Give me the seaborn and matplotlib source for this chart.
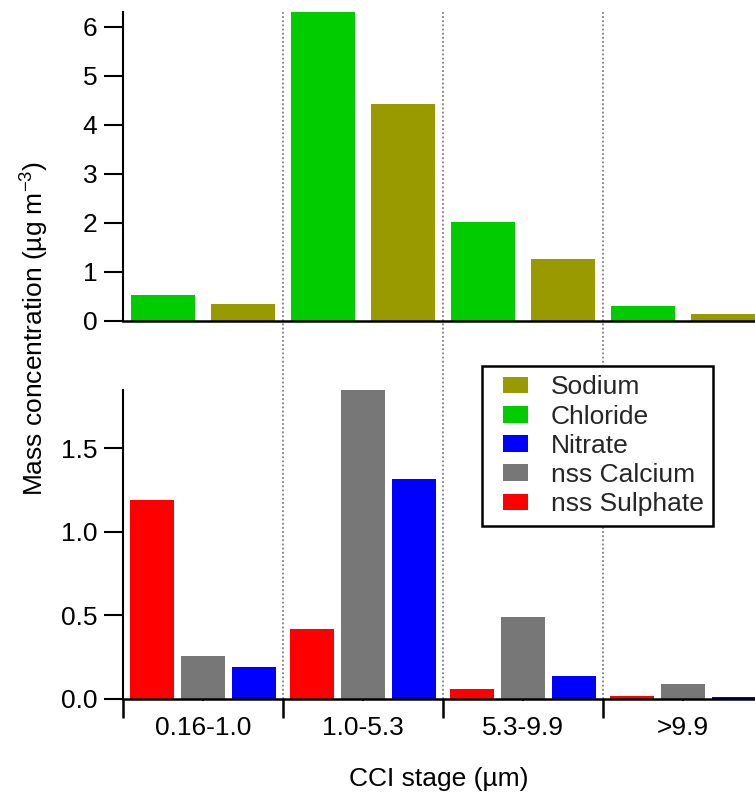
import numpy as np
import pandas as pd
import matplotlib
matplotlib.use("Agg")
import matplotlib.pyplot as plt
from matplotlib.patches import Patch, Rectangle
from matplotlib.legend_handler import HandlerPatch
import seaborn as sns

# ---------------- data ----------------
stages = ["0.16-1.0", "1.0-5.3", "5.3-9.9", ">9.9"]

chloride = [0.52, 6.30, 2.01, 0.31]
sodium = [0.35, 4.42, 1.26, 0.15]

sulphate = [1.19, 0.42, 0.06, 0.015]
calcium = [0.26, 1.85, 0.49, 0.09]
nitrate = [0.19, 1.32, 0.14, 0.012]

top_species = ["Chloride", "Sodium"]
bottom_species = ["nss Sulphate", "nss Calcium", "Nitrate"]
legend_order = ["Sodium", "Chloride", "Nitrate", "nss Calcium", "nss Sulphate"]

colors = {
    "Sodium": "#999900",
    "Chloride": "#00CC00",
    "Nitrate": "#0000FF",
    "nss Calcium": "#777777",
    "nss Sulphate": "#FF0000",
}

top_df = pd.DataFrame({
    "stage": stages * 2,
    "species": ["Chloride"] * 4 + ["Sodium"] * 4,
    "value": chloride + sodium,
})
bottom_df = pd.DataFrame({
    "stage": stages * 3,
    "species": ["nss Sulphate"] * 4 + ["nss Calcium"] * 4 + ["Nitrate"] * 4,
    "value": sulphate + calcium + nitrate,
})

# ---------------- style ----------------
sns.set_theme(style="white")
plt.rcParams["font.family"] = ["Liberation Sans", "DejaVu Sans"]
plt.rcParams["mathtext.fontset"] = "custom"
plt.rcParams["mathtext.rm"] = "Liberation Sans"
plt.rcParams["mathtext.it"] = "Liberation Sans"
plt.rcParams["mathtext.default"] = "regular"

FS = 19
W, H = 755, 798
fig = plt.figure(figsize=(W / 100, H / 100), dpi=100)

left = 123 / W
width = (W - 123) / W
top_ax_pos = [left, 1 - 321 / H, width, (321 - 12) / H]
bot_ax_pos = [left, 1 - 699 / H, width, (699 - 390) / H]
XLIM = (-0.5, 3.45)

# overlay axes for the dotted separators
ax_bg = fig.add_axes([left, 1 - 699 / H, width, (699 - 12) / H], zorder=0)
ax_bg.set_xlim(*XLIM)
ax_bg.set_ylim(0, 1)
ax_bg.axis("off")
for b in [0.5, 1.5, 2.5]:
    ax_bg.axvline(b, color="#808080", lw=1.3, ls=(0, (1, 1.3)))

ax_top = fig.add_axes(top_ax_pos, zorder=1)
ax_bot = fig.add_axes(bot_ax_pos, zorder=1)
for ax in (ax_top, ax_bot):
    ax.patch.set_visible(False)

sns.barplot(data=top_df, x="stage", y="value", hue="species",
            order=stages, hue_order=top_species, palette=colors,
            saturation=1, width=1.0, gap=0.19, linewidth=0, legend=False,
            ax=ax_top)
sns.barplot(data=bottom_df, x="stage", y="value", hue="species",
            order=stages, hue_order=bottom_species, palette=colors,
            saturation=1, width=0.96, gap=0.14, linewidth=0, legend=False,
            ax=ax_bot)

for ax in (ax_top, ax_bot):
    ax.set_xlim(*XLIM)
    ax.set_xlabel("")
    ax.set_ylabel("")
    for s in ("top", "right"):
        ax.spines[s].set_visible(False)
    ax.spines["left"].set_linewidth(1.5)
    ax.spines["bottom"].set_linewidth(1.8)
    ax.spines["left"].set_color("black")
    ax.spines["bottom"].set_color("black")
    ax.tick_params(axis="y", direction="out", length=13.5, width=1.5,
                   pad=5, labelsize=FS, colors="black", left=True)

ax_top.set_ylim(0, 6.3)
ax_top.set_yticks([0, 1, 2, 3, 4, 5, 6])
ax_top.tick_params(axis="x", bottom=False, labelbottom=False)

ax_bot.set_ylim(0, 1.85)
ax_bot.set_yticks([0, 0.5, 1.0, 1.5])
ax_bot.set_yticklabels(["0.0", "0.5", "1.0", "1.5"])

ax_bot.set_xticks(range(len(stages)))
ax_bot.set_xticklabels(stages)
ax_bot.set_xticks([-0.5, 0.5, 1.5, 2.5], minor=True)
ax_bot.tick_params(axis="x", which="major", bottom=True, direction="inout",
                   length=3, width=1.2, pad=11, labelsize=FS, colors="black")
ax_bot.tick_params(axis="x", which="minor", bottom=True, direction="out",
                   length=14, width=1.8, colors="black")
ax_bot.set_xlabel("CCI stage (µm)", fontsize=FS, labelpad=19, color="black")

fig.text(35 / W, 1 - 328 / H, "Mass concentration (µg m$^{-3}$)",
         rotation=90, ha="center", va="center", fontsize=FS, color="black")

# legend: swatch sits at the right end of a wider handle box
SW = 18.0  # swatch width in points


def right_swatch(legend, orig_handle, xdescent, ydescent, width, height, fontsize):
    return Rectangle(xy=(-xdescent + width - SW, -ydescent), width=SW, height=height)


handles = [Patch(facecolor=colors[k], edgecolor="none", label=k) for k in legend_order]
leg = ax_bot.legend(handles=handles, loc="upper left",
                    bbox_to_anchor=((482 - 123) / (W - 123), (699 - 366) / (699 - 390)),
                    borderaxespad=0, fontsize=FS, frameon=True, fancybox=False,
                    handlelength=1.4, handleheight=0.6, handletextpad=0.85,
                    labelspacing=0.2, borderpad=0.35,
                    handler_map={Patch: HandlerPatch(patch_func=right_swatch)})
leg.get_frame().set_edgecolor("black")
leg.get_frame().set_linewidth(1.8)
leg.get_frame().set_facecolor("white")
leg.get_frame().set_alpha(1)

fig.savefig("out.png", dpi=100)
